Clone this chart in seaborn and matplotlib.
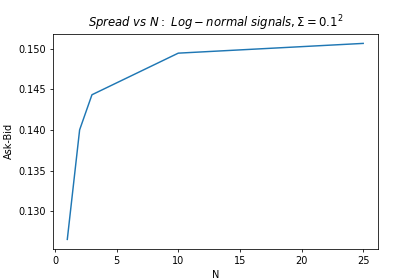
import matplotlib
matplotlib.use("Agg")
import matplotlib.pyplot as plt
import pandas as pd
import seaborn as sns

# Number of agents vs. average spread
n_agents = [1, 2, 3, 10, 25]
spread = [0.12654, 0.14002, 0.14434, 0.14946, 0.15066]

df = pd.DataFrame({"N": n_agents, "Ask-Bid": spread})

fig, ax = plt.subplots(figsize=(6, 4), dpi=70)
sns.lineplot(data=df, x="N", y="Ask-Bid", ax=ax, color="#1f77b4")
ax.set_title(r"$Spread\ vs\ N:\ Log-normal\ signals, \Sigma = 0.1^2$")
ax.set_xlabel("N")
ax.set_ylabel("Ask-Bid")

fig.savefig("out.png", dpi=70)
plt.close(fig)
